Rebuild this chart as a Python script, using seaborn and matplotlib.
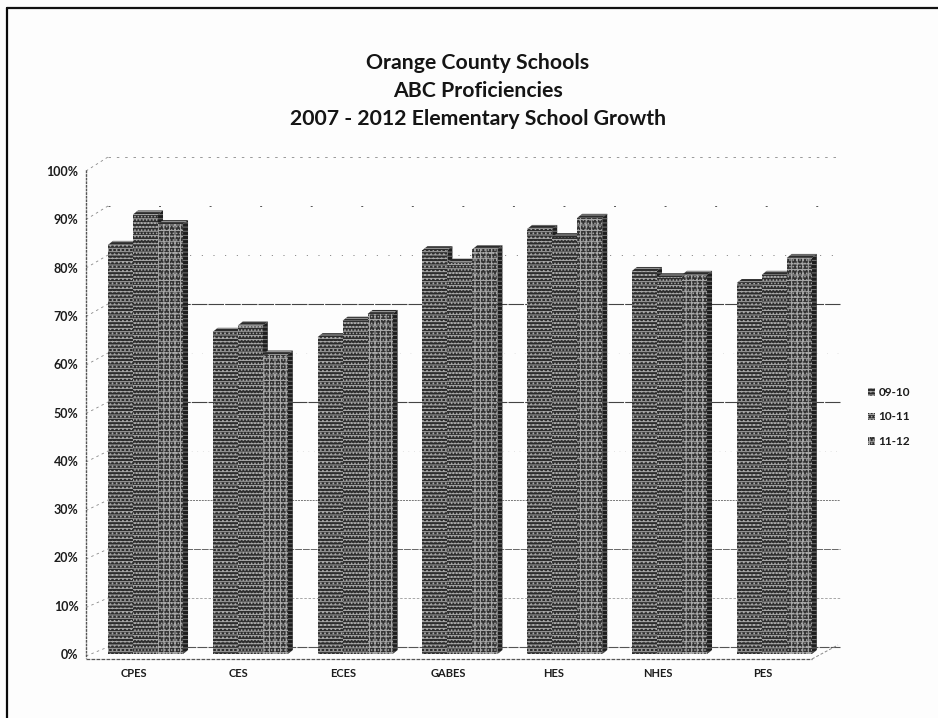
import matplotlib
matplotlib.use("Agg")
import matplotlib.pyplot as plt
import matplotlib.transforms as mtrans
from matplotlib.lines import Line2D
from matplotlib.patches import Polygon
import pandas as pd
import seaborn as sns

schools = ["CPES", "CES", "ECES", "GABES", "HES", "NHES", "PES"]
years = ["09-10", "10-11", "11-12"]
v0910 = [84.7, 66.7, 65.6, 83.6, 88.0, 79.3, 76.8]
v1011 = [91.0, 68.0, 69.0, 81.0, 86.3, 78.0, 78.5]
v1112 = [89.0, 62.0, 70.4, 83.8, 90.3, 78.5, 82.0]
ticks = list(range(0, 101, 10))
title_lines = "Orange County Schools\nABC Proficiencies\n2007 - 2012 Elementary School Growth"

W, H = 938, 718
sns.set_theme(style="white")
FONT = ["Lato", "DejaVu Sans"]
plt.rcParams["font.family"] = FONT
plt.rcParams["hatch.linewidth"] = 0.7
INK = "#1c1c1c"

df = pd.DataFrame({
    "school": schools * 3,
    "year": sum([[y] * len(schools) for y in years], []),
    "value": v0910 + v1011 + v1112,
})

fig = plt.figure(figsize=(W / 100, H / 100), dpi=100, facecolor="#fdfdfd")


def px(x, y):
    return x / W, 1 - y / H


def line(xs, ys, **kw):
    kw.setdefault("color", "#333333")
    fig.add_artist(Line2D([x / W for x in xs], [1 - y / H for y in ys], **kw))


ax_l, ax_r, ax_top, ax_bot = 93.1, 826.7, 171, 654
ax = fig.add_axes([ax_l / W, 1 - ax_bot / H, (ax_r - ax_l) / W, (ax_bot - ax_top) / H])
ax.patch.set_alpha(0)

sns.barplot(data=df, x="school", y="value", hue="year", hue_order=years,
            palette=["#2c2c2c", "#2e2e2e", "#323232"], width=0.716, gap=0,
            saturation=1, ax=ax, errorbar=None)

ax.set_xlim(-0.5, 6.5)
ax.set_ylim(0, 100)
ax.set_xlabel("")
ax.set_ylabel("")
ax.set_yticks(ticks)
ax.set_yticklabels([f"{t}%" for t in ticks], fontsize=9, fontweight="bold", color=INK)
ax.tick_params(axis="y", length=0, pad=10.5)
ax.tick_params(axis="x", length=0, pad=10)
for lab in ax.get_xticklabels():
    lab.set_fontsize(8)
    lab.set_fontweight("bold")
    lab.set_color(INK)
    lab.set_transform(lab.get_transform() + mtrans.ScaledTranslation(-11.5 / 100, 0, fig.dpi_scale_trans))
sns.despine(ax=ax, left=True, bottom=True)

# bar texture and the 3-D depth of each bar
dx = 5 / ((ax_r - ax_l) / 7)
dy = 4 / ((ax_bot - ax_top) / 100)
hatches = ["-----....", "----.....", "+++....."]
EDGE = "#a8a8a8"
for i, cont in enumerate(ax.containers):
    for bar in cont:
        x0, x1 = bar.get_x(), bar.get_x() + bar.get_width()
        h = bar.get_height()
        bar.set_hatch(hatches[i])
        bar.set_edgecolor(EDGE)
        bar.set_linewidth(0)
        bar.set_zorder(3 + 2 * i)
        top = Polygon([(x0, h), (x0 + dx, h + dy), (x1 + dx, h + dy), (x1, h)],
                      facecolor="#2c2c2c", edgecolor=EDGE, hatch="-----", lw=0, zorder=2 + 2 * i)
        side = Polygon([(x1, h), (x1 + dx, h + dy), (x1 + dx, dy), (x1, 0)],
                       facecolor="#1e1e1e", edgecolor="#777777", hatch="----", lw=0, zorder=2 + 2 * i)
        ax.add_patch(top)
        ax.add_patch(side)

# back wall gridlines, left wall, floor
styles = {0: ("#555555", 0.8, (0, (9, 1))), 10: ("#999999", 0.6, (0, (3, 2))),
          20: ("#666666", 0.7, (0, (7, 1))), 30: ("#777777", 0.7, (0, (2, 1))),
          40: ("#cccccc", 0.5, (0, (1, 7))), 50: ("#444444", 0.8, (0, (14, 1))),
          60: ("#cccccc", 0.5, (0, (1, 14))), 70: ("#444444", 0.8, (0, (14, 1))),
          80: ("#777777", 0.7, (0, (1, 11))), 90: ("#555555", 0.7, (0, (2, 50))),
          100: ("#888888", 0.6, (0, (3, 7)))}
for t in ticks:
    yb = 647 - 4.9 * t
    c, lw, ls = styles[t]
    line([108, 840], [yb, yb], color=c, lw=lw, ls=ls, zorder=0)
    yf = 656 - 4.85 * t
    line([86, 108], [yf, yb], color="#888888", lw=0.6, ls=(0, (3, 4)), zorder=0)
line([86, 86], [170, 658], color="#555555", lw=1.0, ls=(0, (2, 0.6)))
line([86, 812], [659, 659], color="#555555", lw=0.9, ls=(0, (3, 1)))
line([812, 838], [659, 645], color="#888888", lw=0.7, ls=(0, (3, 2)))

# page frame
line([7, 7], [8, 718], color="#0a0a0a", lw=1.6)
line([7, 938], [8, 8], color="#111111", lw=1.6)

fig.text(*px(478, 91), title_lines, ha="center", va="center", fontsize=15.3, fontweight="bold",
         color="#151515", linespacing=1.52)

handles, labels = ax.get_legend_handles_labels()
for hd, hs in zip(handles, hatches):
    hd.set_hatch(hs)
    hd.set_edgecolor(EDGE)
    hd.set_linewidth(0)
ax.legend(handles, labels, loc="center left", bbox_to_anchor=px(868, 417),
          bbox_transform=fig.transFigure, frameon=False, title=None,
          labelcolor=INK, prop={"weight": "bold", "size": 8.5, "family": FONT},
          handlelength=0.6, handleheight=0.6, handletextpad=0.3, labelspacing=1.15,
          borderpad=0, borderaxespad=0)

fig.savefig("out.png", dpi=100, facecolor=fig.get_facecolor())
